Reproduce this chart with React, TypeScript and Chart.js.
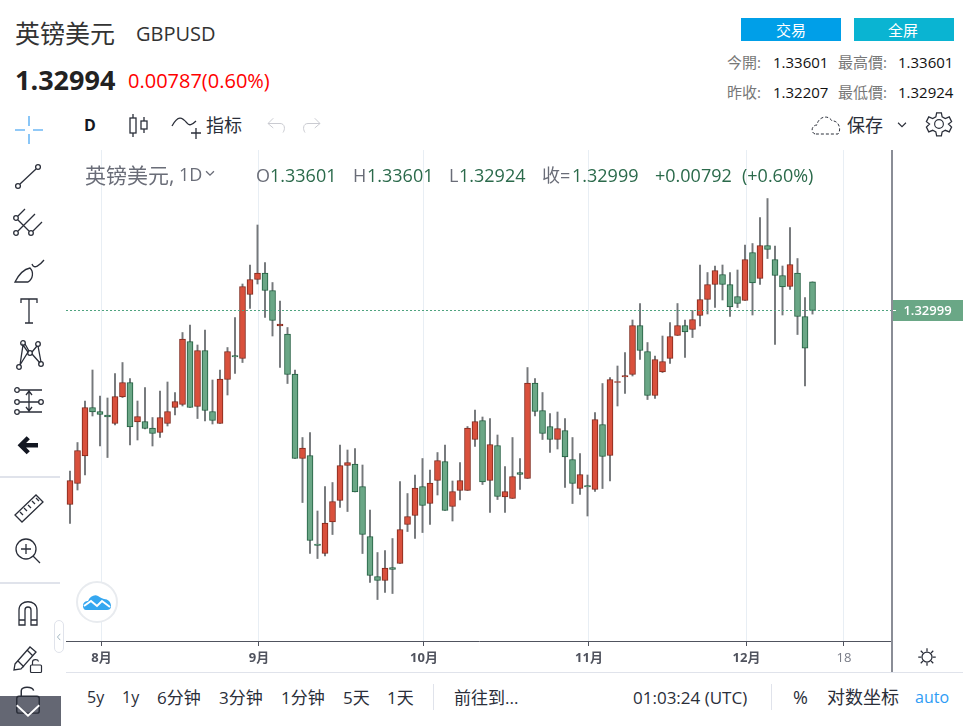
import { Chart, registerables } from "chart.js"
import { useEffect, useRef } from "react"

Chart.register(...registerables)

const opens = [
  1.28925, 1.29366, 1.29944, 1.30962, 1.30878, 1.30805, 1.30626, 1.31183, 1.31487, 1.30658,
  1.30668, 1.30532, 1.30437, 1.30626, 1.30962, 1.31025, 1.32348, 1.30983, 1.32159, 1.30878,
  1.30626, 1.3155, 1.32054, 1.31991, 1.33335, 1.3365, 1.33787, 1.33419, 1.32674, 1.32506,
  1.31666, 1.29891, 1.29954, 1.28096, 1.27896, 1.28558, 1.29009, 1.29744, 1.29776, 1.29303,
  1.28253, 1.27413, 1.27329, 1.27602, 1.27686, 1.28505, 1.28694, 1.29303, 1.28946, 1.29429,
  1.29828, 1.28883, 1.29219, 1.29219, 1.3029, 1.30689, 1.29429, 1.30164, 1.29083, 1.29051,
  1.29597, 1.29471, 1.31477, 1.30899, 1.30563, 1.3029, 1.30479, 1.2987, 1.29261, 1.29324,
  1.2924, 1.30605, 1.29954, 1.31487, 1.31603, 1.31655, 1.32684, 1.32138, 1.31214, 1.31708,
  1.31991, 1.32474, 1.32684, 1.326, 1.32894, 1.3323, 1.33545, 1.33755, 1.33545, 1.33293,
  1.33209, 1.34217, 1.33671, 1.34364, 1.3407, 1.33734, 1.33503, 1.33787, 1.32873, 1.33601,
]
const highs = [
  1.29628, 1.30227, 1.31099, 1.3175, 1.31204, 1.31162, 1.31676, 1.31907, 1.31571, 1.31099,
  1.31382, 1.30752, 1.31309, 1.31498, 1.31277, 1.32537, 1.32695, 1.32275, 1.3259, 1.3154,
  1.3175, 1.32222, 1.32852, 1.33556, 1.33955, 1.34795, 1.34007, 1.33587, 1.33199, 1.32642,
  1.3175, 1.30332, 1.30437, 1.28789, 1.29303, 1.29387, 1.30175, 1.3007, 1.30101, 1.29755,
  1.2881, 1.27917, 1.27959, 1.28211, 1.29408, 1.29156, 1.29545, 1.29891, 1.2965, 1.30017,
  1.30175, 1.29419, 1.29807, 1.30563, 1.3091, 1.30763, 1.30731, 1.30385, 1.29723, 1.30332,
  1.29891, 1.31802, 1.31571, 1.31277, 1.30836, 1.30868, 1.30731, 1.30332, 1.29996, 1.29545,
  1.30857, 1.31466, 1.31592, 1.31834, 1.32117, 1.328, 1.33146, 1.32327, 1.32044, 1.32464,
  1.32747, 1.33146, 1.328, 1.32999, 1.33955, 1.33797, 1.33934, 1.33955, 1.33797, 1.3385,
  1.34375, 1.34406, 1.34952, 1.35351, 1.34354, 1.33934, 1.34742, 1.34091, 1.33272, 1.33601,
]
const lows = [
  1.28526, 1.2923, 1.29545, 1.30784, 1.30154, 1.29912, 1.30595, 1.31172, 1.30175, 1.3028,
  1.30511, 1.30154, 1.30332, 1.30574, 1.30805, 1.30994, 1.30962, 1.30731, 1.30679, 1.30616,
  1.30626, 1.31225, 1.31676, 1.31907, 1.33041, 1.33556, 1.32852, 1.32464, 1.31802, 1.31466,
  1.29891, 1.28967, 1.27896, 1.27791, 1.27844, 1.28295, 1.28862, 1.28778, 1.29188, 1.27896,
  1.27287, 1.2693, 1.27077, 1.27056, 1.27686, 1.28358, 1.28211, 1.28337, 1.28505, 1.29125,
  1.28799, 1.28579, 1.2902, 1.29219, 1.30143, 1.29345, 1.28757, 1.2903, 1.28757, 1.29051,
  1.2924, 1.29471, 1.30784, 1.3029, 1.30017, 1.30091, 1.29282, 1.28946, 1.29135, 1.28684,
  1.29198, 1.29261, 1.29419, 1.30994, 1.31256, 1.31624, 1.3197, 1.3113, 1.31151, 1.31697,
  1.31886, 1.32474, 1.32012, 1.32432, 1.32674, 1.32926, 1.33062, 1.3322, 1.32873, 1.33062,
  1.33209, 1.32905, 1.33545, 1.34091, 1.32285, 1.32905, 1.3344, 1.32495, 1.31414, 1.32924,
]
const closes = [
  1.29429, 1.30059, 1.30962, 1.30868, 1.30815, 1.30763, 1.31193, 1.31487, 1.30553, 1.30773,
  1.30521, 1.30416, 1.30752, 1.30878, 1.31088, 1.32401, 1.30962, 1.32159, 1.30899, 1.30689,
  1.31561, 1.32138, 1.32023, 1.33503, 1.3365, 1.33787, 1.33419, 1.32789, 1.32716, 1.31655,
  1.29891, 1.30112, 1.28169, 1.28064, 1.28537, 1.28988, 1.29744, 1.29807, 1.29188, 1.28295,
  1.27434, 1.27329, 1.27592, 1.2756, 1.284, 1.28673, 1.29272, 1.28904, 1.29377, 1.29849,
  1.28799, 1.29198, 1.29429, 1.30532, 1.30668, 1.29398, 1.30185, 1.29093, 1.29198, 1.29513,
  1.29555, 1.31477, 1.30878, 1.30416, 1.3029, 1.30521, 1.29923, 1.29366, 1.29555, 1.29293,
  1.3071, 1.29933, 1.3155, 1.31508, 1.31634, 1.32684, 1.32159, 1.31214, 1.3197, 1.31928,
  1.32453, 1.32684, 1.32548, 1.3281, 1.3323, 1.33545, 1.33839, 1.33545, 1.33073, 1.33146,
  1.3407, 1.33577, 1.34364, 1.3428, 1.33734, 1.33493, 1.33965, 1.32873, 1.32207, 1.32999,
]
const tickIndexes = [4.2, 25.2, 47.2, 69.2, 90.2, 103.2]
const tickLabels = ["8月", "9月", "10月", "11月", "12月", "18"]
const lastClose = 1.32999

const UP = "#d9503c"
const UP_EDGE = "#7f261a"
const DOWN = "#6aa786"
const DOWN_EDGE = "#1f5c3e"
const FONT = '"Open Sans", "Noto Sans CJK SC", sans-serif'
const INK = "#2a2e39"

const priceTag = {
  id: "priceTag",
  afterDatasetsDraw(chart: any) {
    const { ctx, chartArea, scales } = chart
    const y = Math.floor(scales.y.getPixelForValue(lastClose)) + 0.5
    ctx.save()
    ctx.strokeStyle = "#4fa37f"
    ctx.setLineDash([2, 2])
    ctx.lineWidth = 1
    ctx.beginPath()
    ctx.moveTo(chartArea.left, y)
    ctx.lineTo(chartArea.right, y)
    ctx.stroke()
    ctx.fillStyle = DOWN
    ctx.fillRect(chartArea.right, y - 10.5, 71, 21)
    ctx.fillStyle = "#fff"
    ctx.fillRect(chartArea.right, y - 0.5, 4, 1)
    ctx.font = `600 13px ${FONT}`
    ctx.textAlign = "center"
    ctx.textBaseline = "middle"
    ctx.fillText(lastClose.toFixed(5), chartArea.right + 35.5, y + 0.5)
    ctx.restore()
  },
}

const T = ({ x, y, size = 16, color = INK, bold = false, children }: any) => (
  <span style={{ position: "absolute", left: x, top: y, transform: "translateY(-50%)", fontSize: size, color, fontWeight: bold ? 700 : 400, whiteSpace: "nowrap", lineHeight: 1 }}>
    {children}
  </span>
)

const Icon = ({ x, y, s = 32, children, stroke = INK }: any) => (
  <svg width={s} height={s} viewBox="0 0 32 32" fill="none" stroke={stroke} strokeWidth={1.3} style={{ position: "absolute", left: x - s / 2, top: y - s / 2 }}>
    {children}
  </svg>
)

const Box = ({ x, y, w, h, color }: any) => (
  <div style={{ position: "absolute", left: x, top: y, width: w, height: h, background: color }} />
)

const LeftTools = () => (
  <>
    <Icon x={29} y={130} stroke="#6db8f5">
      <path d="M16 2v10M16 20v10M2 16h10M20 16h10" strokeWidth={1.6} />
    </Icon>
    <Icon x={29} y={176}>
      <circle cx="5" cy="26" r="2.4" /><circle cx="25" cy="7" r="2.4" /><path d="M7 24L23 9" />
    </Icon>
    <Icon x={28} y={222}>
      <circle cx="4" cy="12" r="2.3" /><circle cx="4" cy="27" r="2.3" /><circle cx="19" cy="27" r="2.3" />
      <path d="M6 10L13 3M6 25L23 8M21 25L30 16M6 14L17 25" />
    </Icon>
    <Icon x={29} y={268}>
      <path d="M2 30H15C20 27 21 20 17 16C12 17 6 22 2 30Z" /><path d="M19 12C21 18 27 13 31 8" />
    </Icon>
    <Icon x={29} y={312}>
      <path d="M8 7V3H24V7M16 3V27M12 27H20" />
    </Icon>
    <Icon x={29} y={355}>
      <circle cx="6" cy="28" r="2.3" /><circle cx="10" cy="4" r="2.3" /><circle cx="17" cy="14" r="2.3" /><circle cx="25" cy="5" r="2.3" /><circle cx="28" cy="25" r="2.3" />
      <path d="M7 26L10 6L15 13L7 26M12 5L16 12M19 13L24 7M25 7L28 23M19 15L27 24" />
    </Icon>
    <Icon x={29} y={402}>
      <circle cx="4" cy="4" r="2.3" /><circle cx="4" cy="16" r="2.3" /><circle cx="4" cy="26" r="2.3" /><circle cx="28" cy="16" r="2.3" />
      <path d="M7 4H29M7 16H26M7 26H29M16 6V24M13 9L16 5L19 9M13 21L16 25L19 21" />
    </Icon>
    <Icon x={29} y={446} s={24}>
      <path d="M15 5L5 15L15 25M6 15H28" strokeWidth={6} stroke="#131722" />
    </Icon>
    <Box x={0} y={476} w={60} h={2} color="#e0e3eb" />
    <Icon x={29} y={508}>
      <path d="M2 23L23 3L30 10L9 30Z" /><path d="M7 20L10 23M11 16L14 19M15 13L18 16M19 9L22 12M23 6L26 9" />
    </Icon>
    <Icon x={28} y={551}>
      <circle cx="14" cy="14" r="10" /><path d="M21 21L28 28M14 9V19M9 14H19" />
    </Icon>
    <Box x={0} y={582} w={60} h={2} color="#e0e3eb" />
    <Icon x={28} y={613}>
      <path d="M7 28V13C7 2 25 2 25 13V28H19V13C19 9 13 9 13 13V28ZM7 23H13M19 23H25" />
    </Icon>
    <Icon x={27} y={657}>
      <path d="M4 23L19 6L25 11L10 28L3 29ZM16 9L22 15M7 20L13 26" />
    </Icon>
    <Icon x={36} y={666} s={16}>
      <rect x="5" y="14" width="22" height="15" rx="2" strokeWidth={2.4} /><path d="M9 14V8C9 2 20 2 21 7" strokeWidth={2.4} />
    </Icon>
    <Box x={0} y={696} w={61} h={30} color="#646773" />
    <Icon x={28} y={703} s={36}>
      <rect x="6" y="10" width="20" height="15" rx="2" /><path d="M10 10V5C10 1 20 1 21 5" />
    </Icon>
    <Icon x={28} y={710} s={30} stroke="#fff">
      <path d="M4 11L16 22L28 11" strokeWidth={2} />
    </Icon>
    <div style={{ position: "absolute", left: 54, top: 620, width: 10, height: 33, border: "1px solid #e0e3eb", borderRadius: 5, background: "#fff", boxSizing: "border-box" }} />
    <Icon x={59} y={637} s={10} stroke="#9db2bd">
      <path d="M20 6L11 16L20 26" strokeWidth={3} />
    </Icon>
  </>
)

const TopTools = () => (
  <>
    <T x={84} y={125} size={16} bold color="#131722">D</T>
    <Icon x={138} y={125}>
      <path d="M11 5V9M11 24V28M22 8V12M22 20V24" /><rect x="8" y="9" width="6" height="15" /><rect x="19" y="12" width="6" height="8" />
    </Icon>
    <Icon x={186} y={125}>
      <path d="M2 17C8 6 12 8 17 14C19 17 22 16 26 12M21 24H31M26 19V30" />
    </Icon>
    <T x={206} y={125} size={18}>指标</T>
    <Icon x={277} y={125} s={24} stroke="#c8cad0">
      <path d="M4 14L11 7M4 14L11 20M4 14H20C27 14 27 22 24 26" />
    </Icon>
    <Icon x={311} y={125} s={24} stroke="#c8cad0">
      <path d="M28 14L21 7M28 14L21 20M28 14H12C5 14 5 22 8 26" />
    </Icon>
    <svg width="32" height="22" viewBox="0 0 32 22" fill="none" stroke={INK} strokeDasharray="3 2" style={{ position: "absolute", left: 811, top: 114 }}>
      <path d="M4 20C-1 18 1 11 6 11C7 3 17 0 21 7C27 6 31 15 27 20Z" />
    </svg>
    <T x={847} y={125} size={18}>保存</T>
    <Icon x={902} y={125} s={18}>
      <path d="M9 12L16 19L23 12" strokeWidth={2} />
    </Icon>
    <Icon x={939} y={124} s={28}>
      <circle cx="16" cy="16" r="5" />
      <path d="M13 2H19L20 7L24 9L29 7L32 13L28 16L32 20L29 26L24 24L20 26L19 31H13L12 26L8 24L3 26L0 20L4 16L0 13L3 7L8 9L12 7Z" strokeWidth={1.6} transform="translate(1.6 1.6) scale(.9)" />
    </Icon>
  </>
)

const Header = () => (
  <>
    <T x={15} y={33} size={25} color="#333">英镑美元</T>
    <T x={136} y={34} size={20} color="#333">GBPUSD</T>
    <T x={15} y={79} size={27} bold color="#222">1.32994</T>
    <T x={128} y={81} size={20} color="#f00">0.00787(0.60%)</T>
    <Box x={741} y={18} w={100} h={23} color="#009fe8" />
    <Box x={854} y={18} w={100} h={23} color="#0ab4d2" />
    <T x={776} y={30} size={15} color="#fff">交易</T>
    <T x={888} y={30} size={15} color="#fff">全屏</T>
    <T x={727} y={62} size={15} color="#777">今開:</T>
    <T x={773} y={62} size={15} color="#111">1.33601</T>
    <T x={838} y={62} size={15} color="#777">最高價:</T>
    <T x={898} y={62} size={15} color="#111">1.33601</T>
    <T x={727} y={92} size={15} color="#777">昨收:</T>
    <T x={773} y={92} size={15} color="#111">1.32207</T>
    <T x={838} y={92} size={15} color="#777">最低價:</T>
    <T x={898} y={92} size={15} color="#111">1.32924</T>
  </>
)

const Legend = () => {
  const green = "#2b6a4b"
  const gray = "#6a6d78"
  return (
    <>
      <T x={85} y={175} size={21} color={gray}>英镑美元,</T>
      <T x={179} y={174} size={18} color={gray}>1D</T>
      <Icon x={210} y={173} s={14} stroke={gray}>
        <path d="M7 12L16 21L25 12" strokeWidth={3} />
      </Icon>
      <T x={256} y={175} size={18} color={gray}>O</T>
      <T x={270} y={175} size={18} color={green}>1.33601</T>
      <T x={353} y={175} size={18} color={gray}>H</T>
      <T x={367} y={175} size={18} color={green}>1.33601</T>
      <T x={449} y={175} size={18} color={gray}>L</T>
      <T x={459} y={175} size={18} color={green}>1.32924</T>
      <T x={542} y={175} size={18} color={gray}>收=</T>
      <T x={572} y={175} size={18} color={green}>1.32999</T>
      <T x={655} y={175} size={18} color={green}>+0.00792</T>
      <T x={742} y={175} size={18} color={green}>(+0.60%)</T>
    </>
  )
}

const Footer = () => (
  <>
    <Box x={66} y={672} w={897} h={1} color="#e0e3eb" />
    <Box x={433} y={684} w={1} h={26} color="#e0e3eb" />
    <Box x={771} y={684} w={1} h={26} color="#e0e3eb" />
    <T x={87} y={697} size={16}>5y</T>
    <T x={122} y={697} size={16}>1y</T>
    <T x={157} y={697} size={17}>6分钟</T>
    <T x={219} y={697} size={17}>3分钟</T>
    <T x={281} y={697} size={17}>1分钟</T>
    <T x={343} y={697} size={17}>5天</T>
    <T x={387} y={697} size={17}>1天</T>
    <T x={454} y={697} size={17}>前往到...</T>
    <T x={633} y={697} size={17}>01:03:24 (UTC)</T>
    <T x={793} y={697} size={18}>%</T>
    <T x={827} y={697} size={18}>对数坐标</T>
    <T x={915} y={697} size={16} color="#2e9cf5">auto</T>
    <Icon x={927} y={657} s={20}>
      <circle cx="16" cy="16" r="8" strokeWidth={2} />
      <path d="M16 2V7M16 25V30M2 16H7M25 16H30M6 6L9.5 9.5M22.5 22.5L26 26M26 6L22.5 9.5M9.5 22.5L6 26" strokeWidth={2} />
    </Icon>
    <div style={{ position: "absolute", left: 76, top: 581, width: 42, height: 42, border: "2px solid #e8ebef", borderRadius: 21, background: "#fff", boxSizing: "border-box" }} />
    <svg width="28" height="16" viewBox="0 0 28 16" style={{ position: "absolute", left: 83, top: 594 }}>
      <path d="M0 12C0 8 3 7 5 7C7 2 12 0 15 2C18 4 19 4 21 5C25 5 28 8 28 12C28 15 26 16 24 16H3C1 16 0 14 0 12Z" fill="#35a7f0" />
      <path d="M1 12L8 7L14 12L19 7L27 13" fill="none" stroke="#fff" strokeWidth="2" />
    </svg>
  </>
)

const App = () => {
  const chartRef = useRef<HTMLCanvasElement>(null)
  useEffect(() => {
    if (!chartRef.current) return
    const isUp = (i: number) => closes[i] >= opens[i]
    const chart = new Chart(chartRef.current, {
      type: "bar",
      plugins: [priceTag],
      data: {
        datasets: [
          {
            label: "wick",
            data: opens.map((_, i) => ({ x: i, y: [lows[i], highs[i]] })) as any,
            backgroundColor: "#75787b",
            barThickness: 1.3,
            order: 2,
            grouped: false,
          },
          {
            label: "body",
            data: opens.map((o, i) => ({ x: i, y: [o, closes[i]] })) as any,
            backgroundColor: (c: any) => (isUp(c.dataIndex) ? UP : DOWN),
            borderColor: (c: any) => (isUp(c.dataIndex) ? UP_EDGE : DOWN_EDGE),
            borderWidth: 1,
            borderSkipped: false,
            barThickness: 6,
            order: 1,
            grouped: false,
          },
        ],
      },
      options: {
        animation: false,
        responsive: false,
        devicePixelRatio: 1,
        layout: { padding: { right: 71 } },
        plugins: { legend: { display: false }, tooltip: { enabled: false } },
        scales: {
          x: {
            type: "linear",
            min: -0.533,
            max: 109.6,
            offset: false,
            afterBuildTicks: (axis: any) => {
              axis.ticks = tickIndexes.map((value) => ({ value }))
            },
            afterFit: (axis: any) => {
              axis.height = 31
            },
            grid: { offset: false, color: "#e8eef4", tickColor: "#50535e", tickLength: 5 },
            border: { color: "#50535e", width: 1 },
            ticks: {
              autoSkip: false,
              maxRotation: 0,
              padding: 4,
              font: (c: any) => ({
                family: FONT,
                size: 13,
                weight: c.index === tickLabels.length - 1 ? "normal" : "bold",
              }),
              color: (c: any) => (c.index === tickLabels.length - 1 ? "#787b86" : "#50535e"),
              callback: (_v: any, i: number) => tickLabels[i],
            },
          },
          y: { display: false, min: 1.26059, max: 1.3637 },
        },
      },
    } as any)
    return () => {
      chart.destroy()
    }
  }, [])
  return (
    <div style={{ position: "fixed", left: 0, top: 0, width: 963, height: 726, overflow: "hidden", background: "#fff", fontFamily: FONT }}>
      <canvas ref={chartRef} width={897} height={522} style={{ position: "absolute", left: 66, top: 150 }}></canvas>
      <Box x={891} y={150} w={2} h={522} color="#8a8d96" />
      <Header />
      <TopTools />
      <LeftTools />
      <Legend />
      <Footer />
    </div>
  )
}
export default App
